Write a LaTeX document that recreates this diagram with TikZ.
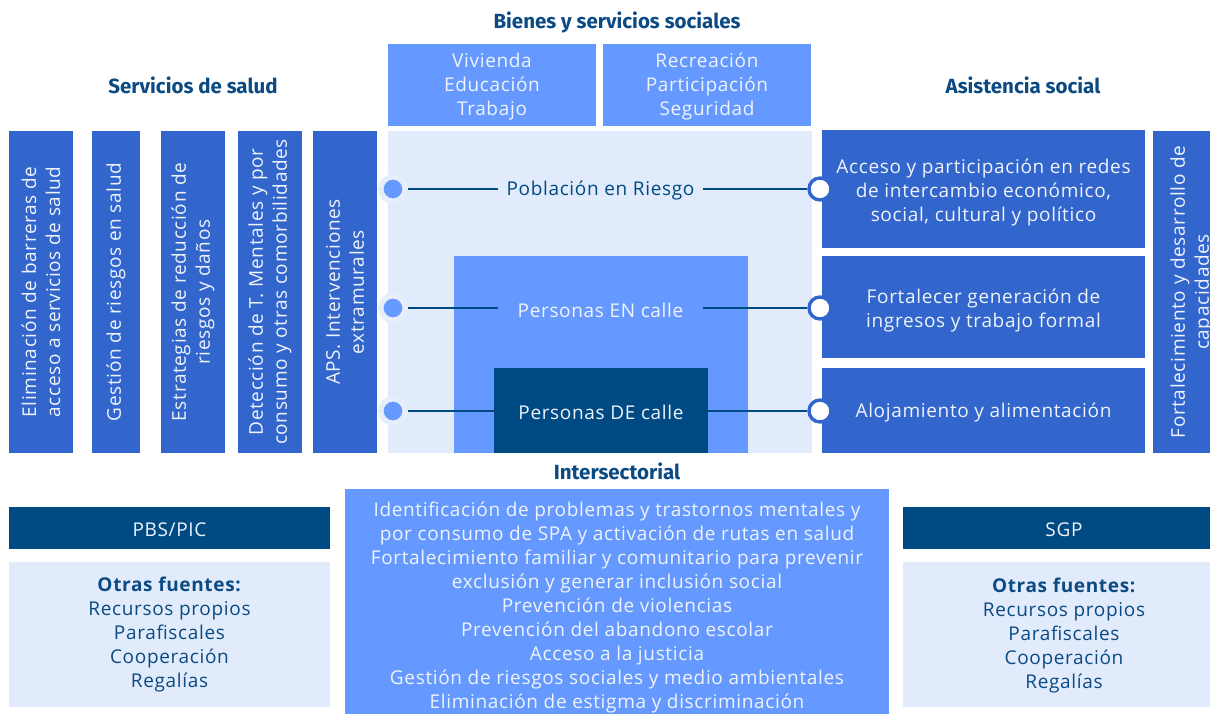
\documentclass[tikz,border=0pt]{standalone}
\usepackage{fontspec}
\setmainfont{Open Sans}[LetterSpace=3.5]
\newfontfamily\titlefont{Fira Sans}
\definecolor{colblue}{HTML}{3366CC}
\definecolor{lightblue}{HTML}{6699FF}
\definecolor{paleblue}{HTML}{E1EBFC}
\definecolor{halo}{HTML}{E6EEFC}
\definecolor{navy}{HTML}{004A84}
\definecolor{titleblue}{HTML}{0B4A82}
\definecolor{softwhite}{HTML}{EEF3FC}
\begin{document}
\begin{tikzpicture}[x=1pt,y=-1pt,
  every node/.style={inner sep=0pt, outer sep=0pt},
  block/.style={anchor=north west, inner sep=0pt, outer sep=0pt, draw=none},
  tx/.style={font=\fontsize{19}{24}\selectfont, align=center, text=softwhite},
  btxt/.style={tx, yshift=-2pt},
  vtxt/.style={tx, rotate=90},
  ttl/.style={font=\titlefont\bfseries\fontsize{20.5}{24}\selectfont, text=titleblue, yshift=-1pt},
  ldot/.style={circle, fill=lightblue, draw=halo, line width=5.5pt, minimum size=24.5pt, inner sep=0pt, outer sep=2.75pt},
  rdot/.style={circle, fill=white, draw=colblue, line width=3.4pt, minimum size=22pt, inner sep=0pt, outer sep=1.7pt},
  conn/.style={draw=navy, line width=2.4pt},
  lbl/.style={font=\fontsize{19}{24}\selectfont, minimum width=205pt, minimum height=12pt, text depth=0pt},
  lbltxt/.style={font=\fontsize{19}{24}\selectfont, yshift=-2pt}
]
\useasboundingbox (0,0) rectangle (1210,714);
\clip (0,0) rectangle (1210,714);
% titles
\node[ttl] (tbienes) at (617,21) {Bienes y servicios sociales};
\node[ttl] (tsalud) at (193,84) {Servicios de salud};
\node[ttl] (tasist) at (1023,84) {Asistencia social};
\node[ttl] (tinter) at (617,470) {Intersectorial};
% top boxes
\node[block, fill=lightblue, minimum width=208pt, minimum height=82pt] (top1) at (388,44) {};
\node[block, fill=lightblue, minimum width=208pt, minimum height=82pt] (top2) at (603,44) {};
\node[btxt] (top1t) at (top1.center) {Vivienda\\Educación\\Trabajo};
\node[btxt] (top2t) at (top2.center) {Recreación\\Participación\\Seguridad};
% left columns
\node[block, fill=colblue, minimum width=64pt, minimum height=322pt] (c1) at (9,131) {};
\node[block, fill=colblue, minimum width=48pt, minimum height=322pt] (c2) at (92,131) {};
\node[block, fill=colblue, minimum width=64pt, minimum height=322pt] (c3) at (161,131) {};
\node[block, fill=colblue, minimum width=64pt, minimum height=322pt] (c4) at (238,131) {};
\node[block, fill=colblue, minimum width=64pt, minimum height=322pt] (c5) at (313,131) {};
\node[vtxt] (c1t) at (c1.center) {Eliminación de barreras de\\acceso a servicios de salud};
\node[vtxt] (c2t) at (c2.center) {Gestión de riesgos en salud};
\node[vtxt] (c3t) at (c3.center) {Estrategias de reducción de\\riesgos y daños};
\node[vtxt] (c4t) at (c4.center) {Detección de T. Mentales y por\\consumo y otras comorbilidades};
\node[vtxt] (c5t) at (c5.center) {APS. Intervenciones\\extramurales};
% center
\node[block, fill=paleblue, minimum width=424pt, minimum height=322pt] (cen) at (388,131) {};
\node[block, fill=lightblue, minimum width=294pt, minimum height=197pt] (inner) at (454,256) {};
% right boxes
\node[block, fill=colblue, minimum width=323pt, minimum height=118pt] (r1) at (822,130) {};
\node[block, fill=colblue, minimum width=323pt, minimum height=102pt] (r2) at (822,256) {};
\node[block, fill=colblue, minimum width=323pt, minimum height=85pt] (r3) at (822,368) {};
\node[block, fill=colblue, minimum width=78pt, minimum height=322pt] (r4) at (1153,131) {};
\node[btxt] (r1t) at (983.5,191) {Acceso y participación en redes\\de intercambio económico,\\social, cultural y político};
\node[btxt] (r2t) at (983.5,309) {Fortalecer generación de\\ingresos y trabajo formal};
\node[btxt] (r3t) at (983.5,410.5) {Alojamiento y alimentación};
\node[vtxt] (r4t) at (r4.center) {Fortalecimiento y desarrollo de\\capacidades};
% dots
\node[ldot] (l1) at (393,189) {};
\node[ldot] (l2) at (393,308) {};
\node[ldot] (l3) at (393,411) {};
\node[rdot] (d1) at (820,189) {};
\node[rdot] (d2) at (820,308) {};
\node[rdot] (d3) at (820,411) {};
% connectors
\draw[conn] (l1) -- (d1);
\draw[conn] (l2) -- (d2);
\draw[conn] (l3) -- (d3);
% labels (gaps in the lines, then texts)
\node[lbl, fill=paleblue] (pobgap) at (600.5,189) {};
\node[lbltxt, text=navy] (pob) at (pobgap.center) {Población en Riesgo};
\node[lbl, fill=lightblue] (engap) at (600.5,308) {};
\node[lbltxt, text=softwhite] (encalle) at (engap.center) {Personas EN calle};
\node[block, fill=navy, minimum width=214pt, minimum height=85pt] (decalle) at (494,368) {};
\node[btxt] (decallet) at (decalle.center) {Personas DE calle};
% bottom
\node[block, fill=lightblue, minimum width=544pt, minimum height=230pt] (inter) at (345,489) {};
\node[btxt, font=\fontsize{19}{23.9}\selectfont] (intert) at (617,605.5) {Identificación de problemas y trastornos mentales y\\por consumo de SPA y activación de rutas en salud\\Fortalecimiento familiar y comunitario para prevenir\\exclusión y generar inclusión social\\Prevención de violencias\\Prevención del abandono escolar\\Acceso a la justicia\\Gestión de riesgos sociales y medio ambientales\\Eliminación de estigma y discriminación};
\node[block, fill=navy, minimum width=321pt, minimum height=42pt] (pbs) at (9,507) {};
\node[btxt] (pbst) at (pbs.center) {PBS/PIC};
\node[block, fill=paleblue, minimum width=321pt, minimum height=145pt] (lft) at (9,562) {};
\node[btxt, text=titleblue] (lftt) at (169.5,633) {\textbf{Otras fuentes:}\\Recursos propios\\Parafiscales\\Cooperación\\Regalías};
\node[block, fill=navy, minimum width=322pt, minimum height=42pt] (sgp) at (903,507) {};
\node[btxt] (sgpt) at (sgp.center) {SGP};
\node[block, fill=paleblue, minimum width=322pt, minimum height=145pt] (rgt) at (903,562) {};
\node[btxt, text=titleblue] (rgtt) at (1064,634) {\textbf{Otras fuentes:}\\Recursos propios\\Parafiscales\\Cooperación\\Regalías};
\end{tikzpicture}
\end{document}
